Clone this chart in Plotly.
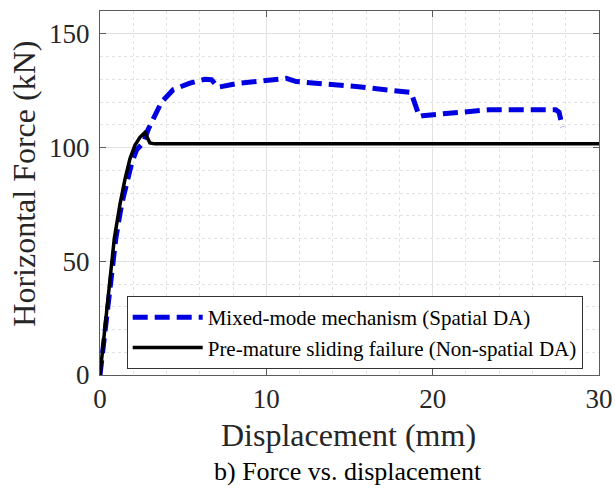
import plotly.graph_objects as go

# Data
spatial_x = [0, 0.5, 0.95, 1.3, 1.6, 1.9, 2.2, 2.6, 2.9, 3.7, 4.4, 5.4, 6.3, 6.7, 7.1,
             8.4, 11.2, 11.8, 15.4, 18.7, 19.2, 19.4, 23.4, 27.4, 27.6, 27.8]
spatial_y = [0, 30, 60, 75, 85, 93, 99, 102, 108, 120, 125.4, 128.3, 130, 129.8, 126.5,
             128.3, 130.4, 129, 126.8, 124.2, 113.6, 114, 116.6, 116.6, 115.5, 109]

nonspatial_x = [0, 0.43, 0.86, 1.2, 1.5, 1.8, 2.1, 2.4, 2.7, 3.0, 3.3, 30]
nonspatial_y = [0, 30, 60, 75, 86, 95, 101, 104.5, 106.6, 102, 101.6, 101.6]

series_names = ["Mixed-mode mechanism (Spatial DA)",
                "Pre-mature sliding failure (Non-spatial DA)"]

x_ticks = [0, 10, 20, 30]
y_ticks = [0, 50, 100, 150]

FONT = "Liberation Serif"
TXT = "#262626"

fig = go.Figure()
fig.add_trace(go.Scatter(x=spatial_x, y=spatial_y, mode="lines", name=series_names[0],
                         line=dict(color="#0000e0", width=5, dash="15px,7px")))
fig.add_trace(go.Scatter(x=nonspatial_x, y=nonspatial_y, mode="lines", name=series_names[1],
                         line=dict(color="black", width=3.5)))

axis_common = dict(
    showline=True, linecolor="#5a5a5a", linewidth=1, mirror="ticks",
    ticks="inside", ticklen=6, tickcolor="#5a5a5a",
    showgrid=True, gridcolor="#e2e2e2", gridwidth=1,
    zeroline=False, automargin=False,
    tickfont=dict(family=FONT, size=27, color=TXT),
)

fig.update_xaxes(range=[0, 30], tickvals=x_ticks, ticktext=[str(v) for v in x_ticks],
                 tickangle=0,
                 minor=dict(dtick=2, showgrid=True, gridcolor="#e2e2e2", griddash="dot", ticks=""),
                 **axis_common)
fig.update_yaxes(range=[0, 160], tickvals=y_ticks, ticktext=[str(v) for v in y_ticks],
                 minor=dict(dtick=10, showgrid=True, gridcolor="#e2e2e2", griddash="dot", ticks=""),
                 ticklabelstandoff=4,
                 **axis_common)

fig.update_layout(
    width=615, height=494,
    margin=dict(l=100, r=16, t=11, b=119, autoexpand=False),
    paper_bgcolor="white", plot_bgcolor="white",
    font=dict(family=FONT),
    showlegend=True,
    legend=dict(x=0.0535, y=0.217, xanchor="left", yanchor="top",
                bgcolor="white", bordercolor="#333333", borderwidth=1,
                font=dict(family=FONT, size=21, color="black"),
                tracegroupgap=0, itemwidth=70),
    annotations=[
        dict(text="Horizontal Force (kN)", textangle=-90, xref="paper", yref="paper",
             x=-0.154, y=0.526, xanchor="center", yanchor="middle", showarrow=False,
             font=dict(family=FONT, size=32, color=TXT)),
        dict(text="Displacement (mm)", xref="paper", yref="paper",
             x=0.497, y=-0.165, xanchor="center", yanchor="middle", showarrow=False,
             font=dict(family=FONT, size=32, color=TXT)),
        dict(text="b) Force vs. displacement", xref="paper", yref="paper",
             x=0.497, y=-0.266, xanchor="center", yanchor="middle", showarrow=False,
             font=dict(family=FONT, size=26, color="black")),
    ],
    hovermode=False,
)

fig.write_html("out.html", config={"displayModeBar": False})
